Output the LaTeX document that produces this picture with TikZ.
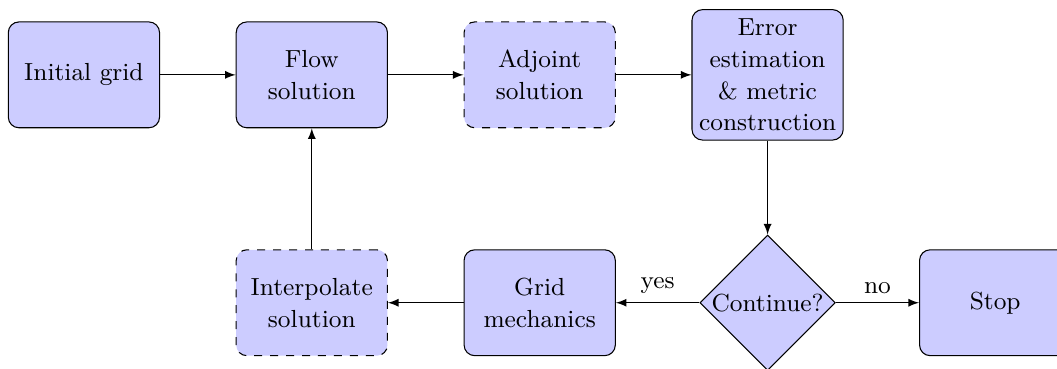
\documentclass[tikz,border=0pt]{standalone}
\usepackage{tikz}
\usetikzlibrary{positioning,shapes.geometric,arrows}

\begin{document}
\begin{tikzpicture}[>=latex, font=\fontsize{9.3}{12}\selectfont]
        \tikzset{box style/.style={draw, rectangle, rounded corners, fill=blue!20, align=center, inner xsep=2pt, minimum width=2cm, minimum height=1.4cm}}
        \tikzset{test style/.style={draw, diamond, fill=blue!20, inner sep=0.5pt}}
        \tikzset{line style/.style={->}}

        \useasboundingbox (-1.11,-3.89) rectangle (12.87,0.99);

        \node[box style] (init) at (0,0) {Initial grid};
        \node[box style, right=1cm of init] (flow) {Flow\\solution};
        \node[box style, dashed, right=1cm of flow] (adj) {Adjoint\\solution};
        \node[box style, right=1cm of adj] (err) {Error\\estimation\\\& metric\\construction};

        \node[box style, dashed, below=1.6cm of flow] (interp) {Interpolate\\solution};
        \node[box style, right=1cm of interp] (grid) {Grid\\mechanics};
        \node[test style] (cont) at (err |- grid) {Continue?};
        \node[box style, right=1.1cm of cont] (stop) {Stop};

        \draw[line style] (init) -- (flow);
        \draw[line style] (flow) -- (adj);
        \draw[line style] (adj) -- (err);
        \draw[line style] (err) -- (cont);
        \draw[line style] (cont) -- node[above] {yes} (grid);
        \draw[line style] (cont) -- node[above] {no} (stop);
        \draw[line style] (grid) -- (interp);
        \draw[line style] (interp) -- (flow);
    \end{tikzpicture}
\end{document}
